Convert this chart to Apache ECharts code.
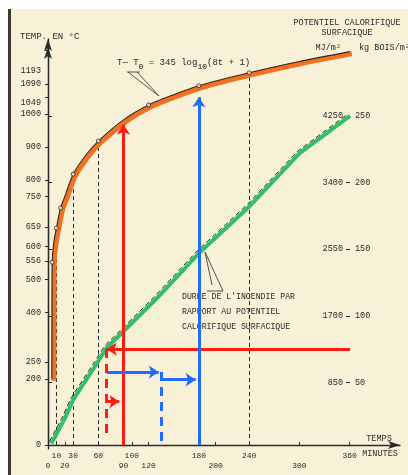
<!DOCTYPE html>
<html><head><meta charset="utf-8">
<script src="https://cdn.jsdelivr.net/npm/echarts@6/dist/echarts.min.js"></script>
<style>html,body{margin:0;padding:0;background:#fff}#c{width:408px;height:475px}</style>
</head><body><div id="c"></div>
<script>
// ---- data ----
const tempTicks = [0,200,250,400,500,556,600,659,750,800,900,1000,1049,1090,1193];
const timeTicksRow1 = [10,30,60,100,180,240,360];
const timeTicksRow2 = [0,20,90,120,200,300];
const loadTicksKg = [50,100,150,200,250];
const loadTicksMJ = [850,1700,2550,3400,4250];
// ISO fire curve  T - T0 = 345 log10(8t+1)
const curveTime = [4.6,4.8,5,7,10,15,20,30,45,60,90,120,150,180,240,300,360];
const curveTemp = [200,400,552,612,655,716,750,818,875,918,982,1027,1058,1085,1124,1158,1188];
const dotTimes = [5,10,15,30,60,120,180,240];
const refTimes = [10,30,60,240];
// fire duration vs surface fire load (kg wood / m2)
const loadTime = [4,20,30,58,70,128,180,240,300,360];
const loadKg   = [4,23,37,64,76,112,147,182,222,250];
// reading example (red): load -> equivalent duration -> temperature
const redLoadKg = 75, redStartTime = 70, redDashEndKg = 8, redSmallArrowKg = 35.6, redSmallArrowEnd = 85;
const redTime = 90, redTopTemp = 968;
// reading example (blue)
const blueLoadKg = 57.7, blueStartTime = 70, blueArrowEnd = 132;
const blueDashTime = 135, blueDashEndKg = 4, blueLoadKg2 = 52, blueArrowEnd2 = 176;
const blueTime = 180, blueTopTemp = 1050;

const MONO = '"Liberation Mono","DejaVu Sans Mono",monospace';
const INK = '#2a2a2a';
const tempAt = t => curveTemp[curveTime.indexOf(t)];
const curveData = curveTime.map((t,i)=>[t,curveTemp[i]]);
const loadData = loadTime.map((t,i)=>[t,loadKg[i]]);

const chart = echarts.init(document.getElementById('c'));
const hiddenX = (g,max)=>({type:'value',gridIndex:g,min:0,max:max,show:false});
const hiddenY = (g,max)=>({type:'value',gridIndex:g,min:0,max:max,show:false});
const TMAX = 1202, KMAX = 307.7;

chart.setOption({
  animation:false,
  backgroundColor:'#ffffff',
  grid:[
    {left:48,right:8,top:47,bottom:30},   // temperature
    {left:48,right:58,top:39,bottom:26},  // fire load
    {left:50,right:6,top:49,bottom:28},   // orange highlight (shifted)
    {left:46,right:60,top:37,bottom:28}   // dashed ink along green (shifted)
  ],
  xAxis:[
    {type:'value',gridIndex:0,min:0,max:420,
     axisLine:{show:true,lineStyle:{color:INK,width:1.3},symbol:['none','arrow'],symbolSize:[6,12]},
     axisTick:{show:true,inside:true,length:3,lineStyle:{color:INK},customValues:timeTicksRow1.concat(timeTicksRow2)},
     axisLabel:{customValues:timeTicksRow1,color:INK,fontFamily:MONO,fontSize:8,margin:7},
     splitLine:{show:false}},
    {type:'value',gridIndex:0,min:0,max:420,position:'bottom',offset:10,
     axisLine:{show:false},axisTick:{show:false},
     axisLabel:{customValues:timeTicksRow2,color:INK,fontFamily:MONO,fontSize:8,margin:7},
     splitLine:{show:false}},
    hiddenX(1,360), hiddenX(2,420), hiddenX(3,360)
  ],
  yAxis:[
    {type:'value',gridIndex:0,min:0,max:TMAX,position:'left',
     axisLine:{show:true,lineStyle:{color:INK,width:1.3},symbol:['none','arrow'],symbolSize:[6,12]},
     axisTick:{show:true,length:3,lineStyle:{color:INK},customValues:tempTicks},
     axisLabel:{customValues:tempTicks,color:INK,fontFamily:MONO,fontSize:8.5,margin:7,
       formatter:v=> v===1193 ? '{lo|'+v+'}' : (v===1049 ? '{lo2|'+v+'}' : String(v)),
       rich:{lo:{fontFamily:MONO,fontSize:8.5,color:INK,padding:[42,0,0,0]},
             lo2:{fontFamily:MONO,fontSize:8.5,color:INK,padding:[10,0,0,0]}}},
     splitLine:{show:false}},
    {type:'value',gridIndex:1,min:0,max:KMAX,position:'right',
     axisLine:{show:true,lineStyle:{color:INK,width:1.3},symbol:['none','arrow'],symbolSize:[6,12]},
     axisTick:{show:true,length:4,lineStyle:{color:INK},customValues:loadTicksKg},
     axisLabel:{customValues:loadTicksKg,color:INK,fontFamily:MONO,fontSize:8.5,margin:5},
     splitLine:{show:false}},
    {type:'value',gridIndex:1,min:0,max:KMAX,position:'right',
     axisLine:{show:false},
     axisTick:{show:true,inside:true,length:4,lineStyle:{color:INK},customValues:loadTicksKg},
     axisLabel:{inside:true,customValues:loadTicksKg,color:INK,fontFamily:MONO,fontSize:8.5,margin:7,
       formatter:v=>String(loadTicksMJ[loadTicksKg.indexOf(v)])},
     splitLine:{show:false}},
    hiddenY(2,TMAX), hiddenY(3,KMAX)
  ],
  series:[
    {type:'line',xAxisIndex:3,yAxisIndex:3,data:curveData,smooth:0.3,symbol:'none',
     lineStyle:{color:'#f2701f',width:5},z:2},
    {type:'line',xAxisIndex:0,yAxisIndex:0,data:curveData,smooth:0.3,symbol:'none',
     lineStyle:{color:INK,width:1.1},z:3},
    {type:'lines',coordinateSystem:'cartesian2d',xAxisIndex:0,yAxisIndex:0,
     data:refTimes.map(t=>({coords:[[t,0],[t,tempAt(t)]]})),
     lineStyle:{color:INK,width:1,type:[4,3],opacity:1},z:1},
    {type:'line',xAxisIndex:2,yAxisIndex:1,data:loadData,symbol:'none',
     lineStyle:{color:'#2fc066',width:4},z:2},
    {type:'line',xAxisIndex:4,yAxisIndex:4,data:loadData,symbol:'none',
     lineStyle:{color:INK,width:1,type:[5,3]},z:3},
    // red reading
    {type:'lines',coordinateSystem:'cartesian2d',xAxisIndex:0,yAxisIndex:0,symbol:['none','arrow'],symbolSize:10,
     data:[{coords:[[redTime,0],[redTime,redTopTemp]]}],lineStyle:{color:'#ff1a12',width:3,opacity:1},z:5},
    {type:'lines',coordinateSystem:'cartesian2d',xAxisIndex:2,yAxisIndex:1,symbol:['none','arrow'],symbolSize:10,
     data:[{coords:[[360,redLoadKg],[redStartTime,redLoadKg]]},
           {coords:[[redStartTime,redSmallArrowKg],[redSmallArrowEnd,redSmallArrowKg]]}],
     lineStyle:{color:'#ff1a12',width:3,opacity:1},z:5},
    {type:'lines',coordinateSystem:'cartesian2d',xAxisIndex:2,yAxisIndex:1,
     data:[{coords:[[redStartTime,redLoadKg],[redStartTime,redDashEndKg]]}],
     lineStyle:{color:'#ff1a12',width:3,type:[9,6],opacity:1},z:5},
    // blue reading
    {type:'lines',coordinateSystem:'cartesian2d',xAxisIndex:0,yAxisIndex:0,symbol:['none','arrow'],symbolSize:10,
     data:[{coords:[[blueTime,0],[blueTime,blueTopTemp]]}],lineStyle:{color:'#1f6dff',width:3,opacity:1},z:5},
    {type:'lines',coordinateSystem:'cartesian2d',xAxisIndex:2,yAxisIndex:1,symbol:['none','arrow'],symbolSize:10,
     data:[{coords:[[blueStartTime,blueLoadKg],[blueArrowEnd,blueLoadKg]]},
           {coords:[[blueDashTime,blueLoadKg2],[blueArrowEnd2,blueLoadKg2]]}],
     lineStyle:{color:'#1f6dff',width:3,opacity:1},z:5},
    {type:'lines',coordinateSystem:'cartesian2d',xAxisIndex:2,yAxisIndex:1,
     data:[{coords:[[blueDashTime,blueLoadKg],[blueDashTime,blueDashEndKg]]}],
     lineStyle:{color:'#1f6dff',width:3,type:[9,6],opacity:1},z:5},
    {type:'scatter',xAxisIndex:0,yAxisIndex:0,data:dotTimes.map(t=>[t,tempAt(t)]),symbol:'circle',symbolSize:4,
     itemStyle:{color:'#f8efd8',borderColor:INK,borderWidth:1},z:6}
  ],
  graphic:[
    {type:'rect',shape:{x:11,y:9,width:397,height:466},style:{fill:'#f9f0d8'},z:-10,silent:true},
    {type:'rect',shape:{x:8,y:9,width:3,height:466},style:{fill:'#3a3a3a'},z:-9,silent:true},
    {type:'text',left:20,top:32,style:{text:'TEMP. EN °C',font:'9px '+MONO,fill:INK}},
    {type:'text',x:347,y:23,style:{text:'POTENTIEL CALORIFIQUE',font:'8.5px '+MONO,fill:INK,align:'center',verticalAlign:'middle'}},
    {type:'text',x:347,y:33,style:{text:'SURFACIQUE',font:'8.5px '+MONO,fill:INK,align:'center',verticalAlign:'middle'}},
    {type:'text',x:341,y:48,style:{text:'MJ/m²',font:'8.5px '+MONO,fill:INK,align:'right',verticalAlign:'middle'}},
    {type:'text',x:359,y:48,style:{text:'kg BOIS/m²',font:'8.5px '+MONO,fill:INK,align:'left',verticalAlign:'middle'}},
    {type:'text',x:379,y:439,style:{text:'TEMPS',font:'8.5px '+MONO,fill:INK,align:'center',verticalAlign:'middle'}},
    {type:'text',x:380,y:454,style:{text:'MINUTES',font:'8.5px '+MONO,fill:INK,align:'center',verticalAlign:'middle'}},
    {type:'text',x:117,y:63,style:{
      text:'{n|T— T}{s|0}{n| = 345 log}{s|10}{n|(8t + 1)}',
      rich:{n:{font:'9px '+MONO,fill:INK,color:INK},s:{font:'8px '+MONO,color:INK,padding:[7,0,0,0]}},
      verticalAlign:'middle'}},
    {type:'text',x:182,y:297,style:{text:'DUREE DE L\'INCENDIE PAR',font:'8.2px '+MONO,fill:INK,verticalAlign:'middle'}},
    {type:'text',x:182,y:312,style:{text:'RAPPORT AU POTENTIEL',font:'8.2px '+MONO,fill:INK,verticalAlign:'middle'}},
    {type:'text',x:182,y:327,style:{text:'CALORIFIQUE SURFACIQUE',font:'8.2px '+MONO,fill:INK,verticalAlign:'middle'}},
    {type:'polyline',shape:{points:[[128,72],[159,96],[137,72]]},style:{stroke:INK,lineWidth:0.8,fill:null}},
    {type:'line',shape:{x1:127,y1:72,x2:140,y2:72},style:{stroke:INK,lineWidth:0.8}},
    {type:'polyline',shape:{points:[[212,285],[205,252],[223,291]]},style:{stroke:INK,lineWidth:0.8,fill:null}},
    {type:'line',shape:{x1:207,y1:291,x2:223,y2:291},style:{stroke:INK,lineWidth:0.8}}
  ]
});
</script></body></html>
